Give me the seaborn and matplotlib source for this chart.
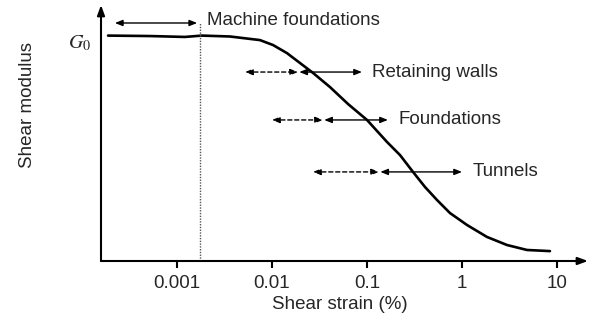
import matplotlib
matplotlib.use("Agg")
import matplotlib.pyplot as plt
import matplotlib.transforms as mtransforms
import seaborn as sns
import pandas as pd

# Normalised shear modulus degradation curve (G/G0 vs shear strain in %)
strain = [1.88e-4, 5.20e-4, 1.21e-3, 1.83e-3, 3.61e-3, 7.47e-3, 0.01026,
          0.01439, 0.01972, 0.02704, 0.04083, 0.0631, 0.1, 0.1625, 0.2225,
          0.305, 0.408, 0.546, 0.748, 1.13, 1.83, 2.98, 4.83, 8.43]
modulus = [1.002, 1.0, 0.996, 1.002, 0.998, 0.982, 0.96, 0.924, 0.88, 0.836,
           0.773, 0.698, 0.627, 0.529, 0.471, 0.396, 0.329, 0.271, 0.213,
           0.16, 0.107, 0.071, 0.049, 0.044]

tick_values = [0.001, 0.01, 0.1, 1, 10]
tick_labels = ["0.001", "0.01", "0.1", "1", "10"]

# Strain ranges of interest: (label, dashed start, solid start, solid end, level)
ranges = [
    ("Retaining walls", 5.2e-3, 0.0188, 0.0885, 0.84),
    ("Foundations", 0.01, 0.0344, 0.166, 0.627),
    ("Tunnels", 0.027, 0.134, 1.0, 0.396),
]
machine_range = (2.22e-4, 1.63e-3)
machine_level = 1.058
machine_limit = 1.75e-3

sns.set_style("white")
plt.rcParams["font.family"] = ["Liberation Sans", "DejaVu Sans"]
plt.rcParams["mathtext.fontset"] = "stix"

fig = plt.figure(figsize=(5.97, 3.2), dpi=100)
ax = fig.add_axes([101 / 597, 59 / 320, 487 / 597, 256 / 320])

df = pd.DataFrame({"strain": strain, "modulus": modulus})
sns.lineplot(data=df, x="strain", y="modulus", ax=ax, color="black", lw=1.9)

ax.set_xscale("log")
ax.set_xlim(1.585e-4, 21.2)
ax.set_ylim(0, 1.138)

for s in ax.spines.values():
    s.set_visible(False)

# Axes drawn as arrows
axis_head = "-|>,head_length=0.6,head_width=0.22"
ax.annotate("", xy=(1.0, 0), xytext=(0, 0), xycoords="axes fraction",
            arrowprops=dict(arrowstyle=axis_head, color="black", lw=1.5,
                            shrinkA=0, shrinkB=0))
ax.annotate("", xy=(0, 1.0), xytext=(0, 0), xycoords="axes fraction",
            arrowprops=dict(arrowstyle=axis_head, color="black", lw=1.5,
                            shrinkA=0, shrinkB=0))

ax.set_xticks(tick_values)
ax.set_xticklabels(tick_labels)
ax.xaxis.set_minor_locator(matplotlib.ticker.NullLocator())
ax.tick_params(axis="x", direction="out", length=5, width=1.5, pad=5,
               labelsize=13.5, bottom=True, color="black")
ax.set_yticks([])

ax.set_xlabel("Shear strain (%)", fontsize=13.5)
ax.xaxis.set_label_coords(0.49, -0.137)
ax.set_ylabel("Shear modulus", fontsize=13.5)
ax.yaxis.set_label_coords(-0.133, 0.61)

# G0 marker on the vertical axis
blend = mtransforms.blended_transform_factory(ax.transAxes, ax.transData)
ax.text(-0.02, 0.947, "$G_0$", fontsize=14.5, ha="right", va="baseline",
        transform=blend)

head = "<|-|>,head_length=0.45,head_width=0.18"

# Machine foundations range and its limit
ax.annotate("", xy=(machine_range[1], machine_level),
            xytext=(machine_range[0], machine_level),
            arrowprops=dict(arrowstyle=head, color="black", lw=1.0,
                            shrinkA=0, shrinkB=0))
ax.plot([machine_limit, machine_limit], [0, machine_level], color="#555555",
        lw=1.0, ls=(0, (1, 1)))
ax.text(2.07e-3, 1.071, "Machine foundations", fontsize=13.5, ha="left",
        va="center")

for label, x0, x1, x2, level in ranges:
    ax.annotate("", xy=(x1, level), xytext=(x0, level),
                arrowprops=dict(arrowstyle=head, color="black", lw=1.0,
                                ls=(0, (3, 2)), shrinkA=0, shrinkB=0))
    ax.annotate("", xy=(x2, level), xytext=(x1 * 1.03, level),
                arrowprops=dict(arrowstyle=head, color="black", lw=1.0,
                                shrinkA=0, shrinkB=0))
    ax.text(x2 * 1.28, level, label, fontsize=13.5, ha="left", va="center")

fig.savefig("out.png", dpi=100)
